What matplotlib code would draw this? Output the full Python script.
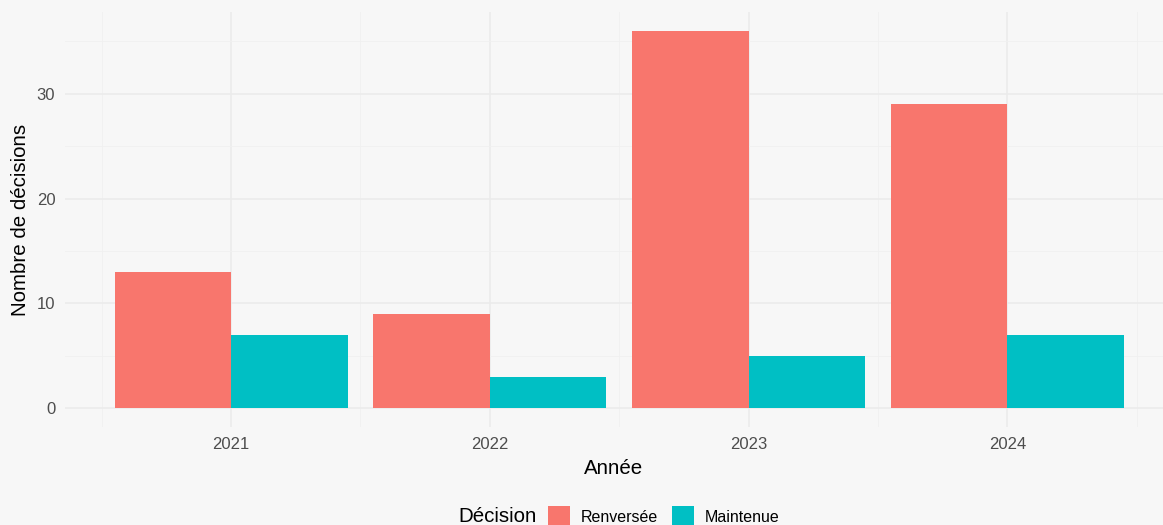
import matplotlib.pyplot as plt
from matplotlib.patches import Rectangle
import numpy as np

plt.rcParams['font.family'] = ['Liberation Sans', 'DejaVu Sans']

# Data
annees = ['2021', '2022', '2023', '2024']
renversee = [13, 9, 36, 29]
maintenue = [7, 3, 5, 7]
series = ['Renversée', 'Maintenue']

rouge = '#F8766D'
bleu = '#00BFC4'
fond = '#F7F7F7'

W, H = 1163, 525
fig = plt.figure(figsize=(W / 100, H / 100), dpi=100, facecolor=fond)
# panel in pixel coords: left 65, right 1163, top 12, bottom 427
ax = fig.add_axes([65 / W, 1 - 427 / H, (1163 - 65) / W, (427 - 12) / H])
ax.set_facecolor(fond)

x = np.arange(1, len(annees) + 1)
bw = 0.45
ax.bar(x - bw / 2, renversee, width=bw, color=rouge, zorder=3)
ax.bar(x + bw / 2, maintenue, width=bw, color=bleu, zorder=3)

ax.set_xlim(0.358, 4.602)
ax.set_ylim(-1.8, 37.8)

ax.set_xticks(x)
ax.set_xticklabels(annees)
ax.set_yticks([0, 10, 20, 30])
ax.set_xticks(np.arange(0.5, 5, 1), minor=True)
ax.set_yticks([5, 15, 25, 35], minor=True)

ax.grid(which='major', color='#EBEBEB', linewidth=1.1, zorder=0)
ax.grid(which='minor', color='#F0F0F0', linewidth=0.6, zorder=0)
for s in ax.spines.values():
    s.set_visible(False)
ax.tick_params(which='both', length=0)
ax.tick_params(axis='both', labelsize=12, labelcolor='#4D4D4D')
ax.tick_params(axis='x', pad=7)
ax.tick_params(axis='y', pad=7)

ax.set_xlabel('Année', fontsize=14.8, color='black', labelpad=5)
ax.set_ylabel('Nombre de décisions', fontsize=14.8, color='black', labelpad=5)

# legend at the bottom, title on the left (drawn in figure pixels)
def px(xp, yp):
    return xp / W, 1 - yp / H

ly = 517
fig.text(*px(458, ly), 'Décision', fontsize=14.8, ha='left', va='center')
keys = [(548, rouge, 581), (672, bleu, 705)]
for (kx, col, tx), lab in zip(keys, series):
    fig.patches.append(Rectangle(px(kx, ly + 11), 22 / W, 22 / H,
                                 transform=fig.transFigure, facecolor=col,
                                 edgecolor='none'))
    fig.text(*px(tx, ly), lab, fontsize=11.5, ha='left', va='center')

fig.savefig('out.png', dpi=100, facecolor=fond)
